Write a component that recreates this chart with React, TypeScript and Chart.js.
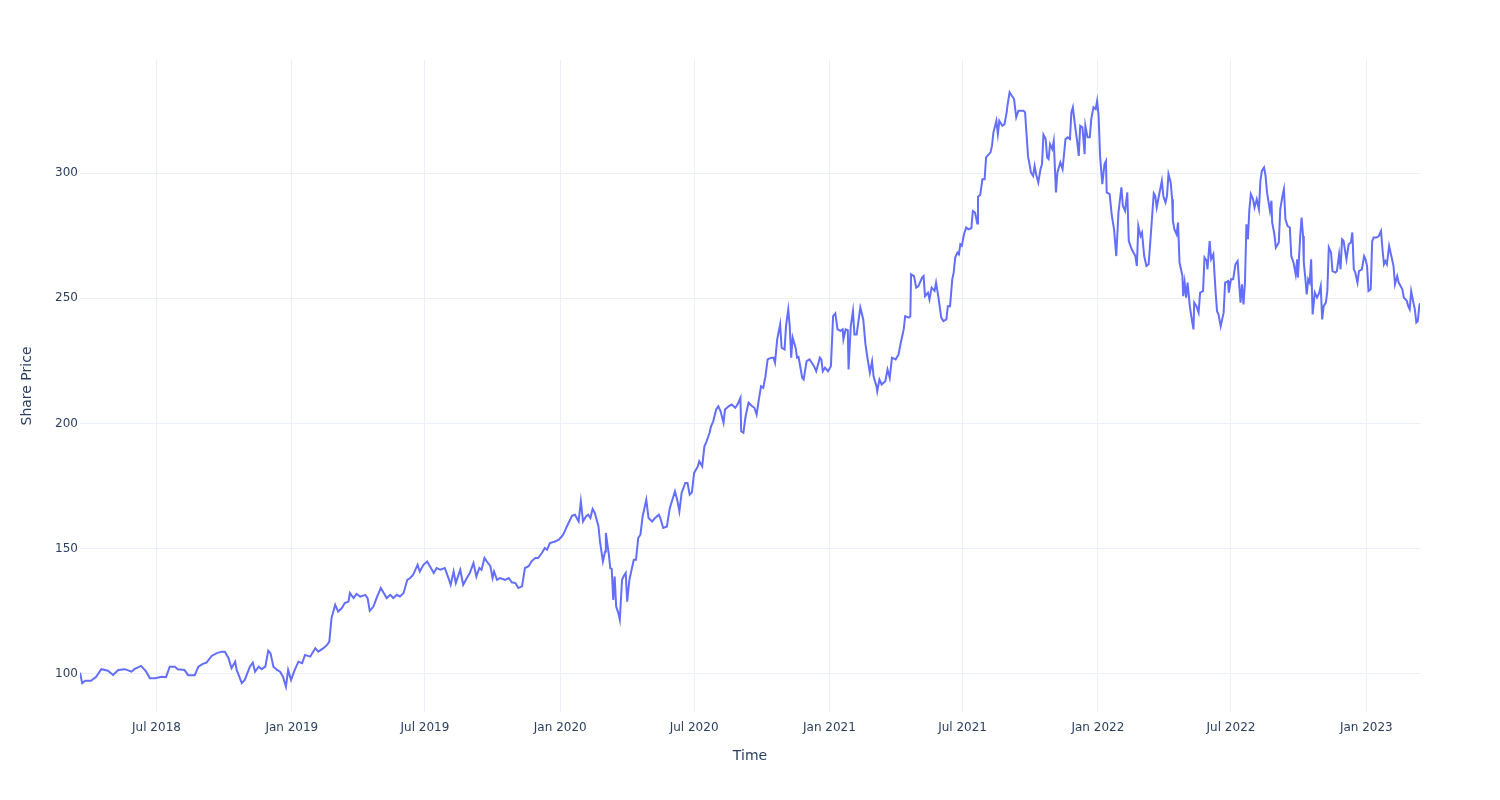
import React, { useEffect, useRef } from "react";
import { Chart, registerables } from "chart.js";

Chart.register(...registerables);

// Share price readings: day offset from startDate, and price
const startDate = "2018-03-19";
const tradingDay: number[] = [
  0, 3, 7, 15, 22, 29, 38, 45, 52, 61,
  70, 74, 83, 90, 95, 102, 111, 117, 122, 129,
  133, 142, 147, 156, 161, 167, 172, 179, 186, 193,
  197, 202, 206, 211, 213, 220, 224, 231, 235, 238,
  243, 247, 252, 256, 259, 263, 268, 272, 276, 280,
  283, 287, 292, 297, 302, 306, 313, 320, 324, 331,
  336, 339, 342, 347, 351, 356, 360, 365, 367, 372,
  376, 381, 388, 391, 394, 399, 404, 409, 413, 417,
  422, 426, 431, 435, 440, 445, 449, 453, 459, 462,
  467, 472, 476, 481, 485, 490, 496, 501, 504, 508,
  511, 517, 521, 526, 530, 535, 539, 543, 546, 550,
  553, 558, 561, 563, 567, 571, 578, 583, 587, 592,
  596, 601, 605, 610, 614, 619, 623, 628, 632, 635,
  639, 646, 651, 655, 657, 662, 669, 673, 678, 681,
  684, 688, 691, 694, 697, 700, 705, 707, 711, 714,
  715, 719, 721, 723, 725, 727, 729, 732, 734, 737,
  739, 742, 744, 747, 750, 753, 756, 759, 762, 765,
  770, 773, 778, 782, 787, 789, 793, 798, 802, 809,
  812, 815, 818, 823, 826, 829, 832, 835, 840, 842,
  846, 849, 852, 856, 858, 861, 865, 868, 871, 875,
  877, 882, 886, 891, 894, 898, 899, 902, 905, 909,
  914, 917, 920, 923, 926, 929, 932, 935, 940, 943,
  945, 948, 952, 954, 958, 960, 963, 965, 967, 969,
  973, 975, 977, 982, 984, 988, 992, 995, 998, 1001,
  1006, 1008, 1010, 1013, 1017, 1021, 1024, 1027, 1030, 1034,
  1037, 1038, 1041, 1044, 1045, 1048, 1051, 1053, 1056, 1061,
  1065, 1068, 1071, 1074, 1077, 1079, 1083, 1084, 1087, 1090,
  1095, 1098, 1101, 1104, 1109, 1113, 1116, 1120, 1122, 1127,
  1129, 1130, 1134, 1137, 1140, 1145, 1147, 1149, 1153, 1155,
  1158, 1162, 1164, 1167, 1171, 1174, 1178, 1180, 1183, 1186,
  1188, 1190, 1193, 1195, 1197, 1199, 1202, 1205, 1208, 1212,
  1214, 1217, 1220, 1221, 1224, 1227, 1230, 1232, 1238, 1240,
  1242, 1246, 1248, 1250, 1254, 1257, 1260, 1261, 1264, 1267,
  1270, 1273, 1276, 1283, 1285, 1289, 1291, 1293, 1296, 1298,
  1300, 1303, 1306, 1308, 1310, 1313, 1315, 1317, 1319, 1322,
  1324, 1327, 1329, 1333, 1336, 1340, 1343, 1346, 1348, 1350,
  1353, 1356, 1358, 1360, 1363, 1366, 1367, 1370, 1373, 1375,
  1378, 1381, 1383, 1385, 1387, 1390, 1393, 1395, 1396, 1400,
  1403, 1406, 1409, 1412, 1416, 1418, 1421, 1424, 1426, 1430,
  1435, 1437, 1439, 1442, 1444, 1447, 1450, 1453, 1456, 1460,
  1462, 1464, 1467, 1471, 1473, 1476, 1478, 1480, 1483, 1485,
  1486, 1488, 1491, 1493, 1495, 1499, 1500, 1502, 1504, 1506,
  1509, 1511, 1514, 1515, 1518, 1521, 1523, 1527, 1529, 1532,
  1533, 1536, 1538, 1541, 1544, 1546, 1548, 1551, 1553, 1555,
  1557, 1561, 1562, 1565, 1568, 1571, 1574, 1576, 1578, 1580,
  1582, 1584, 1586, 1588, 1590, 1592, 1595, 1597, 1600, 1603,
  1605, 1607, 1610, 1612, 1614, 1618, 1620, 1621, 1624, 1626,
  1630, 1632, 1635, 1637, 1639, 1642, 1645, 1647, 1650, 1653,
  1655, 1656, 1659, 1661, 1663, 1664, 1666, 1668, 1670, 1672,
  1674, 1676, 1679, 1682, 1685, 1687, 1689, 1691, 1694, 1696,
  1698, 1701, 1703, 1707, 1709, 1712, 1714, 1716, 1718, 1722,
  1725, 1728, 1730, 1732, 1734, 1737, 1739, 1743, 1746, 1748,
  1750, 1752, 1755, 1757, 1759, 1763, 1766, 1769, 1771, 1773,
  1775, 1777, 1780, 1783, 1786, 1788, 1791, 1793, 1798, 1800,
  1804, 1806, 1808, 1810, 1813, 1815, 1817, 1819, 1821, 1822,
];
const sharePrice: number[] = [
  100.5, 96.3, 97.3, 97.3, 98.9, 101.9, 101.3, 99.6, 101.6, 101.9,
  100.9, 101.9, 103.2, 100.9, 98.3, 98.3, 98.9, 98.7, 102.9, 102.9,
  101.9, 101.6, 99.5, 99.5, 102.9, 104.0, 104.5, 107.2, 108.3, 108.9,
  108.9, 106.3, 102.3, 104.9, 101.6, 96.3, 97.6, 102.9, 104.5, 100.9,
  102.9, 101.9, 102.9, 109.3, 108.3, 102.9, 101.6, 100.9, 98.9, 94.9,
  101.6, 97.6, 101.6, 104.9, 104.3, 107.6, 106.9, 110.3, 108.9, 110.3,
  111.6, 112.9, 122.3, 127.6, 124.9, 126.3, 128.3, 128.9, 132.3, 130.3,
  132.0, 130.9, 131.6, 130.3, 125.2, 126.9, 130.9, 134.3, 132.3, 130.3,
  131.6, 130.3, 131.6, 130.9, 132.3, 137.6, 138.3, 139.6, 143.6, 140.9,
  143.6, 144.9, 142.9, 140.3, 142.3, 141.6, 142.3, 138.3, 135.6, 140.9,
  136.3, 141.6, 135.6, 138.3, 140.3, 144.3, 138.9, 142.3, 141.6, 146.3,
  145.0, 143.0, 138.3, 140.9, 137.6, 138.3, 137.6, 138.3, 136.6, 136.3,
  134.3, 135.0, 142.3, 143.0, 145.0, 146.3, 146.3, 148.3, 150.3, 149.6,
  152.3, 152.9, 153.6, 154.9, 155.6, 158.9, 163.2, 163.6, 160.9, 168.9,
  160.9, 162.9, 163.6, 162.3, 165.9, 164.3, 158.9, 152.9, 144.9, 148.9,
  156.3, 147.9, 142.3, 142.0, 129.6, 138.9, 126.9, 124.3, 121.6, 137.6,
  138.9, 140.3, 128.9, 137.6, 141.6, 145.6, 145.6, 154.3, 155.6, 162.9,
  169.6, 162.3, 160.9, 162.3, 163.6, 162.3, 158.3, 158.9, 166.3, 172.9,
  169.6, 164.9, 172.3, 176.3, 176.3, 171.6, 172.5, 180.3, 182.9, 184.9,
  182.9, 190.9, 192.9, 196.3, 198.9, 200.9, 205.6, 206.9, 204.9, 200.3,
  205.6, 206.9, 207.6, 206.3, 207.6, 210.3, 196.9, 196.3, 202.9, 208.3,
  206.9, 206.3, 203.6, 209.6, 214.9, 214.3, 218.9, 225.6, 226.3, 226.3,
  224.3, 233.6, 239.6, 230.3, 229.6, 239.0, 245.6, 239.0, 226.3, 234.3,
  230.3, 226.3, 226.6, 218.3, 217.6, 224.9, 225.6, 224.3, 222.9, 220.9,
  226.3, 225.6, 220.9, 222.3, 220.9, 222.9, 242.9, 244.0, 237.6, 237.0,
  237.6, 233.6, 237.6, 237.3, 221.6, 238.9, 244.9, 235.6, 235.6, 246.3,
  241.6, 231.6, 225.6, 220.3, 224.9, 218.9, 214.9, 212.9, 217.6, 215.6,
  216.9, 221.6, 218.3, 226.3, 225.6, 227.6, 232.3, 237.6, 242.9, 242.3,
  242.9, 259.6, 258.9, 254.3, 254.9, 258.3, 258.9, 250.9, 252.3, 249.6,
  254.3, 253.0, 256.3, 250.9, 242.3, 240.9, 241.6, 246.9, 246.9, 257.6,
  260.3, 266.3, 268.3, 267.6, 271.6, 271.0, 275.6, 278.3, 277.6, 278.0,
  284.9, 284.3, 279.9, 290.6, 291.3, 297.6, 297.6, 306.3, 308.3, 310.9,
  316.3, 320.9, 315.6, 320.9, 318.9, 319.5, 324.3, 326.9, 332.3, 330.9,
  329.6, 322.3, 324.9, 324.9, 324.3, 306.9, 303.6, 300.3, 298.9, 302.9,
  299.6, 296.3, 301.6, 303.6, 315.3, 313.6, 306.3, 305.6, 311.6, 309.6,
  312.9, 292.3, 300.3, 304.3, 301.6, 313.6, 314.3, 313.6, 324.3, 326.3,
  318.9, 312.3, 306.9, 318.9, 318.3, 307.6, 318.9, 314.3, 314.3, 321.6,
  326.3, 325.6, 328.9, 322.9, 306.9, 295.6, 303.6, 304.9, 292.3, 291.6,
  282.9, 277.6, 266.9, 284.3, 294.3, 287.0, 284.9, 292.3, 272.9, 269.6,
  266.9, 262.9, 278.9, 274.9, 276.3, 266.9, 262.9, 263.6, 275.5, 292.0,
  291.0, 286.3, 291.0, 296.9, 290.9, 288.3, 290.9, 299.6, 296.3, 289.6,
  280.9, 277.6, 275.6, 280.3, 264.3, 258.9, 250.9, 256.3, 250.3, 256.3,
  246.9, 242.9, 237.6, 248.3, 246.9, 244.3, 252.3, 252.9, 266.3, 264.9,
  261.6, 272.9, 265.6, 267.6, 252.9, 244.9, 243.6, 238.9, 241.6, 244.3,
  256.3, 256.9, 252.3, 257.6, 257.6, 263.6, 264.9, 256.3, 248.3, 255.6,
  247.6, 256.3, 279.6, 273.6, 285.6, 291.6, 289.6, 286.3, 289.6, 285.6,
  296.9, 300.9, 302.3, 298.9, 292.3, 284.9, 289.0, 280.3, 275.6, 270.3,
  272.3, 285.6, 290.9, 293.6, 281.6, 278.9, 278.3, 266.9, 264.3, 259.6,
  265.6, 258.3, 274.3, 282.3, 274.9, 264.3, 258.3, 251.6, 257.6, 256.3,
  265.6, 243.6, 252.3, 250.3, 252.3, 254.9, 241.6, 246.9, 248.3, 252.9,
  270.3, 268.3, 260.9, 260.3, 260.9, 267.6, 261.6, 273.6, 273.0, 265.6,
  271.6, 272.3, 276.3, 261.6, 260.3, 256.3, 260.9, 261.6, 266.9, 265.6,
  262.9, 252.9, 253.6, 272.9, 274.3, 274.3, 274.9, 276.9, 269.6, 263.6,
  264.9, 263.6, 270.9, 266.9, 262.9, 255.6, 258.9, 256.3, 253.6, 250.3,
  249.0, 246.9, 245.6, 252.9, 248.3, 245.6, 240.3, 240.9, 246.9, 248.0,
];

const xTickDates = [
  "2018-07-01", "2019-01-01", "2019-07-01", "2020-01-01", "2020-07-01",
  "2021-01-01", "2021-07-01", "2022-01-01", "2022-07-01", "2023-01-01",
];
const xTickLabels = [
  "Jul 2018", "Jan 2019", "Jul 2019", "Jan 2020", "Jul 2020",
  "Jan 2021", "Jul 2021", "Jan 2022", "Jul 2022", "Jan 2023",
];
const yTickValues = [100, 150, 200, 250, 300];

const xTitle = "Time";
const yTitle = "Share Price";

const FONT = "'DejaVu Sans', Verdana, Arial, sans-serif";
const TEXT_COLOR = "#2a3f5f";
const GRID_COLOR = "#EBF0F8";
const LINE_COLOR = "#636efa";

export default function App() {
  const canvasRef = useRef<HTMLCanvasElement | null>(null);

  useEffect(() => {
    if (!canvasRef.current) return;
    const DAY = 86400000;
    const start = Date.parse(startDate);
    const n = Math.min(tradingDay.length, sharePrice.length);
    const points = [];
    for (let i = 0; i < n; i++) {
      points.push({ x: start + tradingDay[i] * DAY, y: sharePrice[i] });
    }
    const xTickValues = xTickDates.map((d) => Date.parse(d));

    const chart = new Chart(canvasRef.current, {
      type: "line",
      data: {
        datasets: [
          {
            data: points,
            borderColor: LINE_COLOR,
            borderWidth: 2,
            pointRadius: 0,
            tension: 0,
            fill: false,
          },
        ],
      },
      options: {
        animation: false,
        responsive: false,
        maintainAspectRatio: false,
        layout: { padding: { left: 0, right: 80, top: 60, bottom: 0 } },
        plugins: { legend: { display: false }, tooltip: { enabled: false } },
        scales: {
          x: {
            type: "linear",
            min: points[0].x,
            max: points[points.length - 1].x,
            border: { display: false },
            grid: { color: GRID_COLOR, lineWidth: 1, drawTicks: false },
            afterBuildTicks: (scale: any) => {
              scale.ticks = xTickValues.map((v) => ({ value: v }));
            },
            afterFit: (scale: any) => {
              scale.height = 88;
            },
            ticks: {
              padding: 9,
              maxRotation: 0,
              autoSkip: false,
              color: TEXT_COLOR,
              font: { family: FONT, size: 12 },
              callback: (_v: any, i: number) => xTickLabels[i],
            },
            title: {
              display: true,
              text: xTitle,
              color: TEXT_COLOR,
              font: { family: FONT, size: 14 },
              padding: { top: 0, bottom: 35.6 },
            },
          },
          y: {
            type: "linear",
            min: 84.8,
            max: 345.2,
            border: { display: false },
            grid: { color: GRID_COLOR, lineWidth: 1, drawTicks: false },
            afterBuildTicks: (scale: any) => {
              scale.ticks = yTickValues.map((v) => ({ value: v }));
            },
            afterFit: (scale: any) => {
              scale.width = 80;
            },
            ticks: {
              padding: 2,
              color: TEXT_COLOR,
              font: { family: FONT, size: 12 },
              callback: (v: any) => String(v),
            },
            title: {
              display: true,
              text: yTitle,
              color: TEXT_COLOR,
              font: { family: FONT, size: 14 },
              padding: { top: 18.6, bottom: 0 },
            },
          },
        },
      },
    });
    return () => chart.destroy();
  }, []);

  return (
    <div style={{ position: "fixed", left: 0, top: 0, width: 1500, height: 800, background: "#fff" }}>
      <canvas ref={canvasRef} width={1500} height={800} />
    </div>
  );
}
